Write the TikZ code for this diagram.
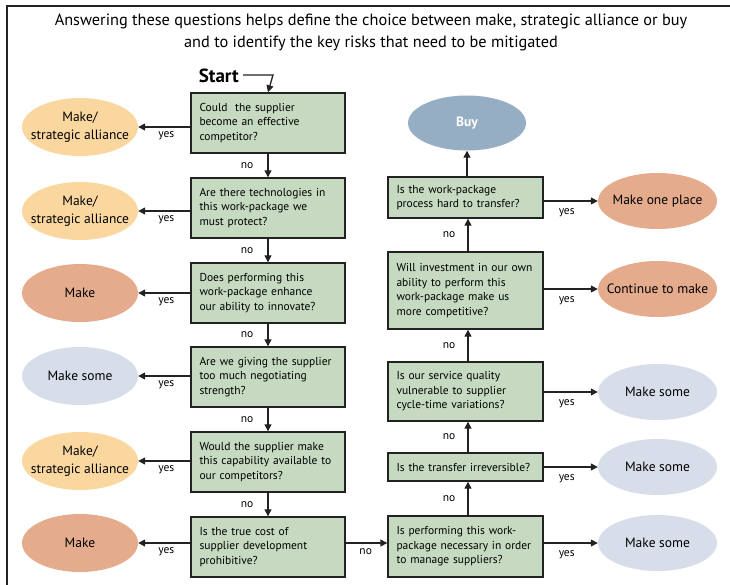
\documentclass[tikz,border=0pt]{standalone}
\usepackage{fontspec}
\setmainfont{PT Sans}
\usetikzlibrary{arrows.meta,shapes.geometric,calc}
\definecolor{qgreen}{HTML}{C5DAC0}
\definecolor{cyellow}{HTML}{FBD7A0}
\definecolor{csalmon}{HTML}{E4AB8D}
\definecolor{cgrey}{HTML}{D7DEEA}
\definecolor{cbuy}{HTML}{96AEC4}
\definecolor{lineclr}{HTML}{222222}
\tikzset{
  qbox/.style={draw=lineclr, line width=1.4pt, fill=qgreen, rectangle, inner xsep=8.5pt, inner ysep=0pt,
    align=left, font=\fontsize{11.5}{14.5}\selectfont, anchor=center},
  oval/.style={ellipse, draw=none, inner sep=0pt},
  ovaltext/.style={align=center, font=\fontsize{13.5}{18}\selectfont, inner sep=0pt},
  arr/.style={draw=lineclr, line width=1.3pt, -{Triangle[length=7pt,width=7pt]}},
  lbl/.style={font=\fontsize{11.5}{12}\selectfont, inner sep=0pt}
}
\begin{document}
\begin{tikzpicture}[x=1pt,y=-1pt]
\useasboundingbox (0,0) rectangle (730,585);
\draw[lineclr, line width=1.4pt] (7,585) -- (7,6) -- (730,6);
\node[font=\fontsize{16.3}{22}\selectfont, align=center] (title) at (371,32)
  {Answering these questions helps define the choice between make, strategic alliance or buy\\
   and to identify the key risks that need to be mitigated};
% left column boxes
\node[qbox, minimum width=154pt, minimum height=60pt, text width=137pt] (b1) at (268,123)
  {Could\ \ the supplier\\become an effective\\competitor?};
\node[qbox, minimum width=154pt, minimum height=60pt, text width=137pt] (b2) at (268,208)
  {Are there technologies in\\this work-package we\\must protect?};
\node[qbox, minimum width=154pt, minimum height=60pt, text width=137pt] (b3) at (268,293)
  {Does performing this\\work-package enhance\\our ability to innovate?};
\node[qbox, minimum width=154pt, minimum height=60pt, text width=137pt] (b4) at (268,377)
  {Are we giving the supplier\\too much negotiating\\strength?};
\node[qbox, minimum width=154pt, minimum height=60pt, text width=137pt] (b5) at (268,462)
  {Would the supplier make\\this capability available to\\our competitors?};
\node[qbox, minimum width=154pt, minimum height=60pt, text width=137pt] (b6) at (268,547)
  {Is the true cost of\\supplier development\\prohibitive?};
% left ellipses
\node[oval, fill=cyellow, minimum width=116pt, minimum height=58pt,
  label={[ovaltext]center:Make/\\strategic alliance}] (e1) at (80,127) {};
\node[oval, fill=cyellow, minimum width=116pt, minimum height=58pt,
  label={[ovaltext]center:Make/\\strategic alliance}] (e2) at (80,211) {};
\node[oval, fill=csalmon, minimum width=116pt, minimum height=58pt,
  label={[ovaltext]center:Make}] (e3) at (80,293) {};
\node[oval, fill=cgrey, minimum width=116pt, minimum height=58pt,
  label={[ovaltext]center:Make some}] (e4) at (80,376) {};
\node[oval, fill=cyellow, minimum width=116pt, minimum height=58pt,
  label={[ovaltext]center:Make/\\strategic alliance}] (e5) at (80,461) {};
\node[oval, fill=csalmon, minimum width=116pt, minimum height=58pt,
  label={[ovaltext]center:Make}] (e6) at (80,543) {};
% right column boxes
\node[qbox, minimum width=155pt, minimum height=61pt, text width=138pt] (r1) at (465.5,546.5)
  {Is performing this work-\\package necessary in order\\to manage suppliers?};
\node[qbox, minimum width=155pt, minimum height=28pt, text width=138pt] (r2) at (465.5,467)
  {Is the transfer irreversible?};
\node[qbox, minimum width=155pt, minimum height=59pt, text width=138pt] (r3) at (465.5,391.5)
  {Is our service quality\\vulnerable to supplier\\cycle-time variations?};
\node[qbox, minimum width=155pt, minimum height=77pt, text width=138pt] (r4) at (465.5,290.5)
  {Will investment in our own\\ability to perform this\\work-package make us\\more competitive?};
\node[qbox, minimum width=155pt, minimum height=41pt, text width=138pt] (r5) at (465.5,197.5)
  {Is the work-package\\process hard to transfer?};
\node[oval, fill=cbuy, minimum width=118pt, minimum height=55pt,
  label={[ovaltext, text=white, font=\fontsize{13.5}{15}\selectfont\bfseries]center:Buy}] (buy) at (467,123) {};
% right ellipses
\node[oval, fill=csalmon, minimum width=119pt, minimum height=56pt,
  label={[ovaltext]center:Make one place}] (f5) at (657.5,201) {};
\node[oval, fill=csalmon, minimum width=119pt, minimum height=56pt,
  label={[ovaltext]center:Continue to make}] (f4) at (657.5,289) {};
\node[oval, fill=cgrey, minimum width=119pt, minimum height=56pt,
  label={[ovaltext]center:Make some}] (f3) at (657.5,392) {};
\node[oval, fill=cgrey, minimum width=119pt, minimum height=56pt,
  label={[ovaltext]center:Make some}] (f2) at (657.5,467) {};
\node[oval, fill=cgrey, minimum width=119pt, minimum height=56pt,
  label={[ovaltext]center:Make some}] (f1) at (657.5,543) {};
% start
\node[font=\fontsize{19}{22}\selectfont\bfseries, inner sep=2pt, anchor=east] (start) at (241,76) {Start};
\coordinate (sc) at (273,75);
\draw[arr] (start.east |- sc) ++(2,0) -- (sc) -- (b1.north);
% left column arrows
\foreach \a/\b in {b1/b2,b2/b3,b3/b4,b4/b5,b5/b6}{
  \draw[arr] (\a.south) -- (\b.north);
  \node[lbl] at ($(\a.south)!0.5!(\b.north)+(-21,0)$) {no};
}
\foreach \a/\b in {b1/e1,b2/e2,b3/e3,b4/e4,b5/e5,b6/e6}{
  \draw[arr] (\a.west |- \b.east) -- (\b.east);
  \node[lbl] at ($(\a.west |- \b.east)+(-24,9)$) {yes};
}
% bottom connector
\draw[arr] (b6.east |- e6) -- (r1.west |- e6);
\node[lbl] at ($(b6.east |- e6)+(20,9)$) {no};
% right column arrows
\foreach \a/\b in {r1/r2,r2/r3,r3/r4,r4/r5}{
  \draw[arr] (\a.north -| 468,0) -- (\b.south -| 468,0);
  \node[lbl] at ($(\a.north)!0.5!(\b.south)+(-16.5,0)$) {no};
}
\draw[arr] (r5.north -| buy) -- (buy.south);
\foreach \a/\b in {r1/f1,r2/f2,r3/f3,r4/f4,r5/f5}{
  \draw[arr] (\a.east |- \b.west) -- (\b.west);
  \node[lbl] at ($(\a.east |- \b.west)+(23,12)$) {yes};
}
\end{tikzpicture}
\end{document}
